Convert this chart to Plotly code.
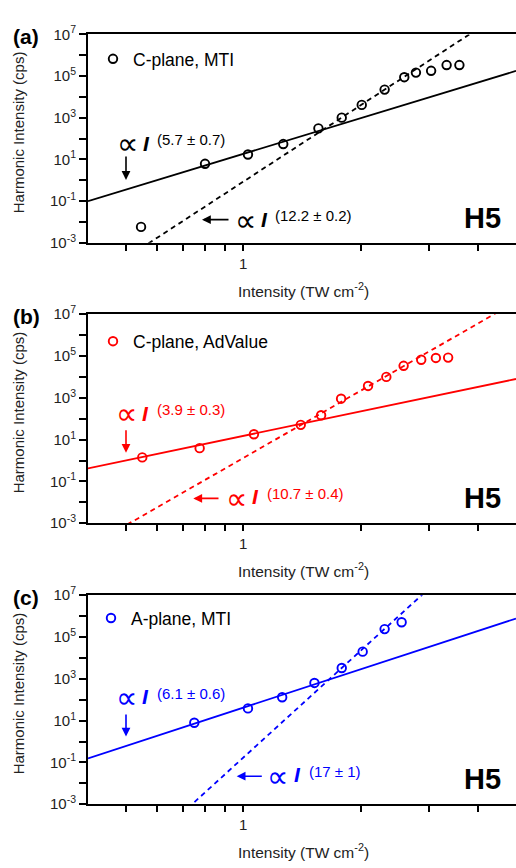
import numpy as np
import plotly.graph_objects as go

W, H = 516, 868

# ---------------- data ----------------
# panel (a) C-plane, MTI
int_a = [0.547, 0.798, 1.028, 1.266, 1.558, 1.788, 2.012, 2.303, 2.586, 2.77, 3.03, 3.32, 3.58]
cps_a = [5.8e-3, 6.2, 17.4, 55, 311, 1020, 4170, 2.26e4, 8.9e4, 1.48e5, 1.8e5, 3.4e5, 3.4e5]
# panel (b) C-plane, AdValue
int_b = [0.551, 0.773, 1.065, 1.404, 1.583, 1.781, 2.088, 2.326, 2.576, 2.858, 3.116, 3.35]
cps_b = [1.41, 3.9, 18, 51, 146, 910, 3700, 1.0e4, 3.4e4, 6.6e4, 8.1e4, 8.4e4]
# panel (c) A-plane, MTI
int_c = [0.749, 1.028, 1.258, 1.522, 1.788, 2.023, 2.303, 2.546]
cps_c = [7.9, 38.6, 131, 636, 3300, 2.0e4, 2.4e5, 5.1e5]

# power-law fits: value at I = 1, exponent
fit_solid_amp = [18.5, 15.0, 42.0]
fit_solid_exp = [5.7, 3.9, 6.1]
fit_dash_amp = [0.86, 1.32, 0.17]
fit_dash_exp = [12.2, 10.7, 17.0]
solid_err = ["(5.7 ± 0.7)", "(3.9 ± 0.3)", "(6.1 ± 0.6)"]
dash_err = ["(12.2 ± 0.2)", "(10.7 ± 0.4)", "(17 ± 1)"]
series_names = ["C-plane, MTI", "C-plane, AdValue", "A-plane, MTI"]
panel_tags = ["(a)", "(b)", "(c)"]
colors = ["#000000", "#ff0000", "#0000ff"]

x_min, x_max = 0.4, 5.0
y_exp = list(range(-3, 8))
y_ticktext = [("10<sup>%d</sup>" % e) if e % 2 == 1 else "" for e in y_exp]
x_tickvals = [0.5, 0.6, 0.7, 0.8, 0.9, 1, 2, 3, 4]
x_ticktext = ["", "", "", "", "", "1", "", "", ""]

# ---------------- layout geometry (pixels) ----------------
plot_left = 88
panel_top = [24, 310, 597.3]
panel_bot = [237, 523.7, 811]

def px(x):
    return x / W

def py(y):
    return 1 - y / H

fig = go.Figure()
FONT = "Liberation Sans, Arial, sans-serif"

ints = [int_a, int_b, int_c]
cpss = [cps_a, cps_b, cps_c]

# per-panel annotation anchor positions (pixels)
prop1 = [(127, 135), (126, 412), (126, 702)]
ital1 = [(146, 135), (145.7, 411), (145.7, 701)]
sup1 = [(155, 131), (155, 407.7), (155, 697.7)]
arr1 = [((126, 147.7), (126, 172.7)), ((126, 427.7), (126, 451.7)), ((126, 718.3), (126, 741.7))]
prop2 = [(245, 214), (236, 498.3), (277.7, 782.3)]
ital2 = [(264, 213), (255, 496.7), (297.7, 780.7)]
sup2 = [(273, 209.3), (265, 493.3), (306.7, 777.7)]
arr2 = [((230, 213.3), (202, 213.3)), ((220, 498.3), (193.3, 498.3)), ((263.3, 782.3), (236.7, 782.3))]
legend_pos = [(93, 49), (93, 337.7), (91, 620.7)]

annotations = []
for i in range(3):
    xa = "x" if i == 0 else "x%d" % (i + 1)
    ya = "y" if i == 0 else "y%d" % (i + 1)
    c = colors[i]
    leg = "legend" if i == 0 else "legend%d" % (i + 1)
    fig.add_trace(go.Scatter(
        x=ints[i], y=cpss[i], mode="markers", name=series_names[i],
        marker=dict(symbol="circle-open", size=8.5, color=c, line=dict(width=1.9, color=c)),
        xaxis=xa, yaxis=ya, legend=leg, showlegend=True))
    xs = np.array([x_min, x_max])
    fig.add_trace(go.Scatter(
        x=xs, y=fit_solid_amp[i] * xs ** fit_solid_exp[i], mode="lines",
        line=dict(color=c, width=1.8), xaxis=xa, yaxis=ya, showlegend=False, hoverinfo="skip"))
    fig.add_trace(go.Scatter(
        x=xs, y=fit_dash_amp[i] * xs ** fit_dash_exp[i], mode="lines",
        line=dict(color=c, width=1.8, dash="5px,4px"), xaxis=xa, yaxis=ya, showlegend=False, hoverinfo="skip"))

    dom = [py(panel_bot[i]), py(panel_top[i])]
    axx = dict(type="log", range=[np.log10(x_min), np.log10(x_max)], domain=[px(plot_left), 1],
               anchor=ya, showline=True, linewidth=2, linecolor="black", mirror=True,
               ticks="outside", ticklen=6, tickwidth=1.5, tickcolor="black",
               tickvals=x_tickvals, ticktext=x_ticktext, showgrid=False, zeroline=False,
               tickfont=dict(family=FONT, size=15, color="#222"))
    axy = dict(type="log", range=[-3, 7], domain=dom, anchor=xa,
               showline=True, linewidth=2, linecolor="black", mirror=False,
               ticks="outside", ticklen=7, tickwidth=1.5, tickcolor="black",
               tickvals=[10.0 ** e for e in y_exp], ticktext=y_ticktext,
               showgrid=False, zeroline=False,
               tickfont=dict(family=FONT, size=15, color="#222"))
    key = "" if i == 0 else str(i + 1)
    fig.update_layout(**{"xaxis" + key: axx, "yaxis" + key: axy})

    lx, ly = legend_pos[i]
    fig.update_layout(**{leg: dict(x=px(lx), y=py(ly), xanchor="left", yanchor="middle",
                                   bgcolor="rgba(0,0,0,0)", borderwidth=0, itemwidth=30,
                                   font=dict(family=FONT, size=17.5, color="black"))})

    # text annotations
    mid = (panel_top[i] + panel_bot[i]) / 2
    annotations.append(dict(x=px(18.5), y=py(mid - 6), text="Harmonic Intensity (cps)", textangle=-90,
                            showarrow=False, font=dict(family=FONT, size=15, color="#222"),
                            xanchor="center", yanchor="middle"))
    annotations.append(dict(x=px(26), y=py(panel_top[i] + 2), text="<b>%s</b>" % panel_tags[i], showarrow=False,
                            font=dict(family=FONT, size=21, color="black"), xanchor="center", yanchor="middle"))
    annotations.append(dict(x=px(303), y=py(panel_bot[i] + 48), text="Intensity (TW cm<sup>-2</sup>)",
                            showarrow=False, font=dict(family=FONT, size=15.5, color="#222"),
                            xanchor="center", yanchor="middle"))
    annotations.append(dict(x=px(503), y=py(panel_top[i] + 188), text="<b>H5</b>", showarrow=False,
                            font=dict(family=FONT, size=29, color="black"), xanchor="right", yanchor="middle"))
    for (pp, ii, ss, aa, txt) in [(prop1[i], ital1[i], sup1[i], arr1[i], solid_err[i]),
                                  (prop2[i], ital2[i], sup2[i], arr2[i], dash_err[i])]:
        annotations.append(dict(x=px(pp[0]), y=py(pp[1]), text="∝", showarrow=False,
                                font=dict(family="DejaVu Sans", size=30, color=c),
                                xanchor="center", yanchor="middle"))
        annotations.append(dict(x=px(ii[0]), y=py(ii[1]), text="<b><i>I</i></b>", showarrow=False,
                                font=dict(family=FONT, size=21, color=c),
                                xanchor="center", yanchor="middle"))
        annotations.append(dict(x=px(ss[0]), y=py(ss[1]), text=txt, showarrow=False,
                                font=dict(family=FONT, size=15, color=c),
                                xanchor="left", yanchor="middle"))
        (tx, ty), (hx, hy) = aa
        annotations.append(dict(x=px(hx), y=py(hy), ax=tx - hx, ay=ty - hy, axref="pixel", ayref="pixel",
                                text="", showarrow=True, arrowhead=2, arrowsize=1.1, arrowwidth=1.6,
                                arrowcolor=c, xref="paper", yref="paper"))

for a in annotations:
    a.setdefault("xref", "paper")
    a.setdefault("yref", "paper")

fig.update_layout(width=W, height=H, margin=dict(l=0, r=0, t=0, b=0),
                  paper_bgcolor="white", plot_bgcolor="white",
                  annotations=annotations, showlegend=True)

fig.write_html("out.html")
